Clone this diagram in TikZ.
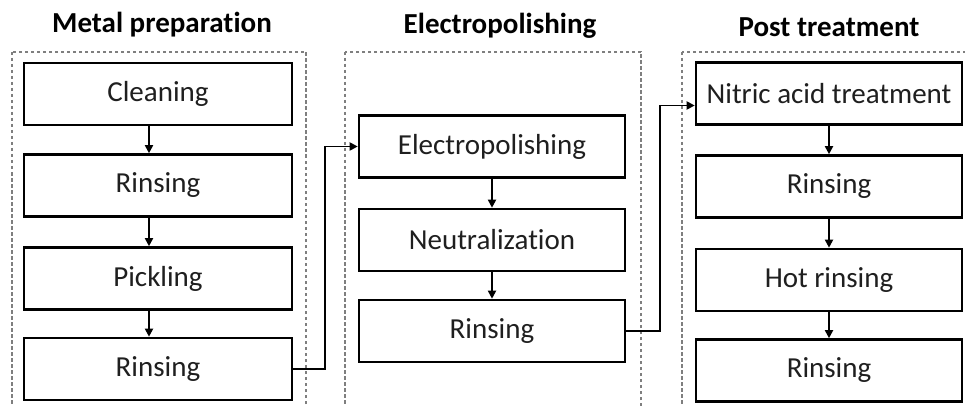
\documentclass[tikz,border=0pt]{standalone}
\usepackage{fontspec}
\setmainfont{Carlito}[RawFeature=-liga]
\usetikzlibrary{arrows.meta}
\definecolor{inkgray}{HTML}{1F1F1F}
\definecolor{framegray}{HTML}{7F7F7F}
\begin{document}
\begin{tikzpicture}[x=1pt,y=-1pt,
  stepbox/.style={draw=black, line width=2.6pt, minimum width=266pt,
    minimum height=62pt, inner sep=0pt, text=inkgray,
    font=\fontsize{29}{34}\selectfont},
  widebox/.style={stepbox, minimum width=268pt},
  heading/.style={font=\fontsize{29}{34}\selectfont\bfseries, text=black, inner sep=0pt},
  frame/.style={draw=framegray, line width=1.4pt, dash pattern=on 3.5pt off 2.5pt},
  flow/.style={draw=black, line width=1.8pt, -{Triangle[width=8pt,length=8pt]}}
]
% canvas
\clip (0,0) rectangle (965,406);
\fill[white] (0,0) rectangle (965,406);

% dashed stage frames (they run past the lower and right edges)
\draw[frame] (12,52) rectangle (306,420);
\draw[frame] (345,52) rectangle (641,420);
\draw[frame] (682,52) rectangle (990,420);

% stage headings
\node[heading] (h1) at (162,25) {Metal preparation};
\node[heading] (h2) at (500,26) {Electropolishing};
\node[heading] (h3) at (829,27) {Post treatment};

% metal preparation
\node[widebox] (a1) at (158,94)    {Cleaning};
\node[widebox] (a2) at (158,185.5) {Rinsing};
\node[widebox] (a3) at (158,278.5) {Pickling};
\node[widebox] (a4) at (158,369)   {Rinsing};

% electropolishing
\node[stepbox] (b1) at (492,146.5) {Electropolishing};
\node[stepbox] (b2) at (492,240)   {Neutralization};
\node[stepbox] (b3) at (492,331)   {Rinsing};

% post treatment
\node[stepbox] (c1) at (829,93.5)  {Nitric acid treatment};
\node[stepbox] (c2) at (829,186.5) {Rinsing};
\node[stepbox] (c3) at (829,280)   {Hot rinsing};
\node[stepbox] (c4) at (829,370.5) {Rinsing};

% links inside each stage
\draw[flow] ([xshift=-9pt]a1.south) -- ([xshift=-9pt]a2.north);
\draw[flow] ([xshift=-9pt]a2.south) -- ([xshift=-9pt]a3.north);
\draw[flow] ([xshift=-9pt]a3.south) -- ([xshift=-9pt]a4.north);
\draw[flow] (b1.south) -- (b2.north);
\draw[flow] (b2.south) -- (b3.north);
\draw[flow] (c1.south) -- (c2.north);
\draw[flow] (c2.south) -- (c3.north);
\draw[flow] (c3.south) -- (c4.north);

% links between stages
\draw[flow] (a4.east) -- ++(32,0) |- (b1.west);
\draw[flow] (b3.east) -- ++(34,0) |- ([yshift=-12pt]c1.west);
\end{tikzpicture}
\end{document}
